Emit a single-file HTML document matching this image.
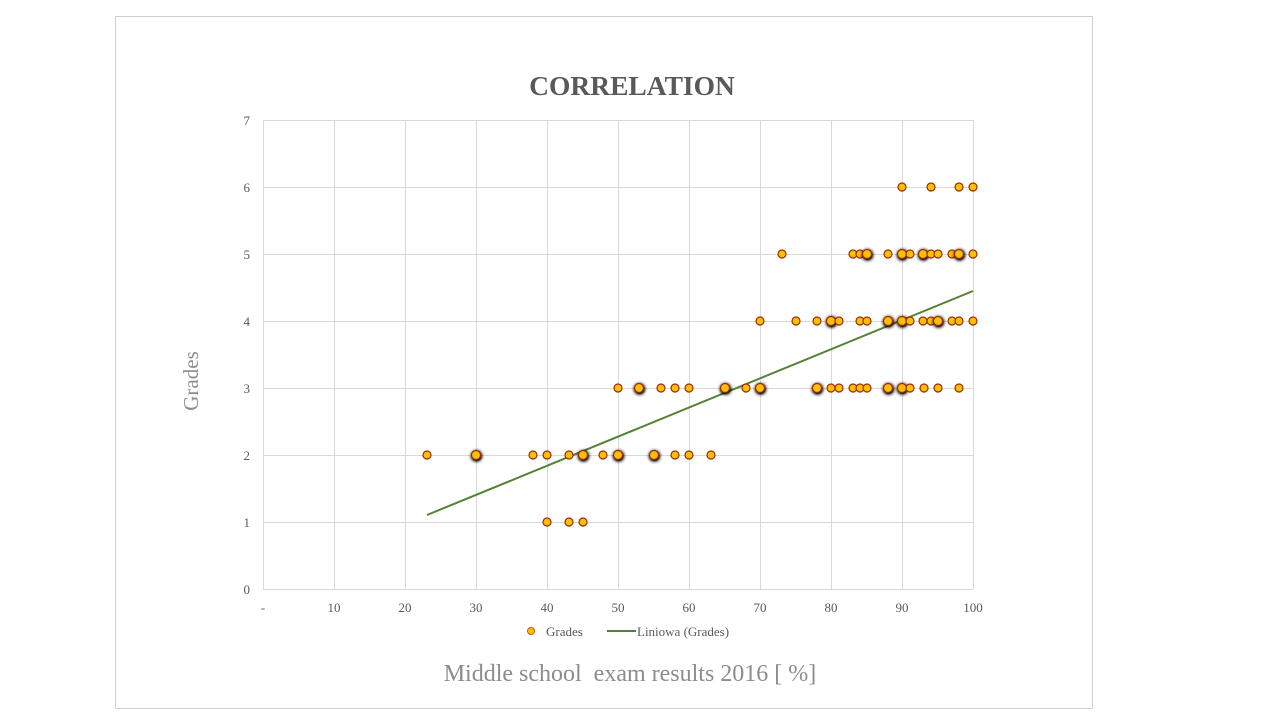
<!DOCTYPE html>
<html><head><meta charset="utf-8"><style>
html,body{margin:0;padding:0;background:#fff;}
svg{display:block;font-family:"Liberation Serif",serif;}
</style></head><body>
<svg width="1280" height="720" xmlns="http://www.w3.org/2000/svg">
<defs>
<filter id="sh" x="-100%" y="-100%" width="300%" height="300%"><feGaussianBlur in="SourceAlpha" stdDeviation="1.8"/><feOffset dx="0.5" dy="1.2"/><feComponentTransfer><feFuncA type="linear" slope="1.6"/></feComponentTransfer><feMerge><feMergeNode/><feMergeNode in="SourceGraphic"/></feMerge></filter>
</defs>
<rect x="115.5" y="16.5" width="977" height="692" fill="#fff" stroke="#d0d0d0"/>
<text x="632" y="95" text-anchor="middle" font-size="27.5" font-weight="bold" fill="#595959">CORRELATION</text>
<g id="grid" stroke="#d9d9d9" stroke-width="1"></g>
<g id="ticks" font-size="13" fill="#595959"></g>
<text transform="translate(198,381) rotate(-90)" text-anchor="middle" font-size="21" fill="#8c8c8c">Grades</text>
<line x1="427" y1="515" x2="973" y2="291" stroke="#548235" stroke-width="2"/>
<g id="pts"></g>
<circle cx="531" cy="631" r="3.5" fill="#ffc000" stroke="#c55a11" stroke-width="1"/>
<text x="546" y="636" font-size="13" fill="#595959">Grades</text>
<line x1="607" y1="631" x2="636" y2="631" stroke="#548235" stroke-width="2"/>
<text x="637" y="636" font-size="13" fill="#595959">Liniowa (Grades)</text>
<text x="630" y="681" text-anchor="middle" font-size="24" fill="#8c8c8c">Middle school &#160;exam results 2016 [ %]</text>
</svg>
<script>
var NS="http://www.w3.org/2000/svg";
function el(p,t,a,txt){var e=document.createElementNS(NS,t);for(var k in a)e.setAttribute(k,a[k]);if(txt!=null)e.textContent=txt;document.getElementById(p).appendChild(e);}
for(var i=0;i<=10;i++){var x=263+i*71;el("grid","line",{x1:x+.5,y1:120,x2:x+.5,y2:589});el("ticks","text",{x:x,y:612,"text-anchor":"middle"},i==0?"-":String(i*10));}
for(var j=0;j<=7;j++){var y=589-j*67;el("grid","line",{x1:263,y1:y+.5,x2:973,y2:y+.5});el("ticks","text",{x:250,y:y+5,"text-anchor":"end"},String(j));}
var rows={
455:[427,476,533,547,569,583,603,618,654,675,689,711],
522:[547,569,583],
388:[618,639,661,675,689,725,746,760,817,831,839,853,860,867,888,902,910,924,938,959],
321:[760,796,817,831,839,860,867,888,902,910,923,931,938,952,959,973],
254:[782,853,860,867,888,902,910,923,931,938,952,959,973],
187:[902,931,959,973]};
var dark={"455":[476,583,618,654],"388":[639,725,760,817,888,902],"321":[831,888,902,938],"254":[867,902,923,959]};
for(var y in rows){rows[y].forEach(function(x){var d=(dark[y]||[]).indexOf(x)>=0;var a={cx:x,cy:+y,r:d?4.5:4,fill:"#ffc000",stroke:"#9c2a00","stroke-width":1.2};if(d)a.filter="url(#sh)";el("pts","circle",a);});}
</script>
</body></html>
